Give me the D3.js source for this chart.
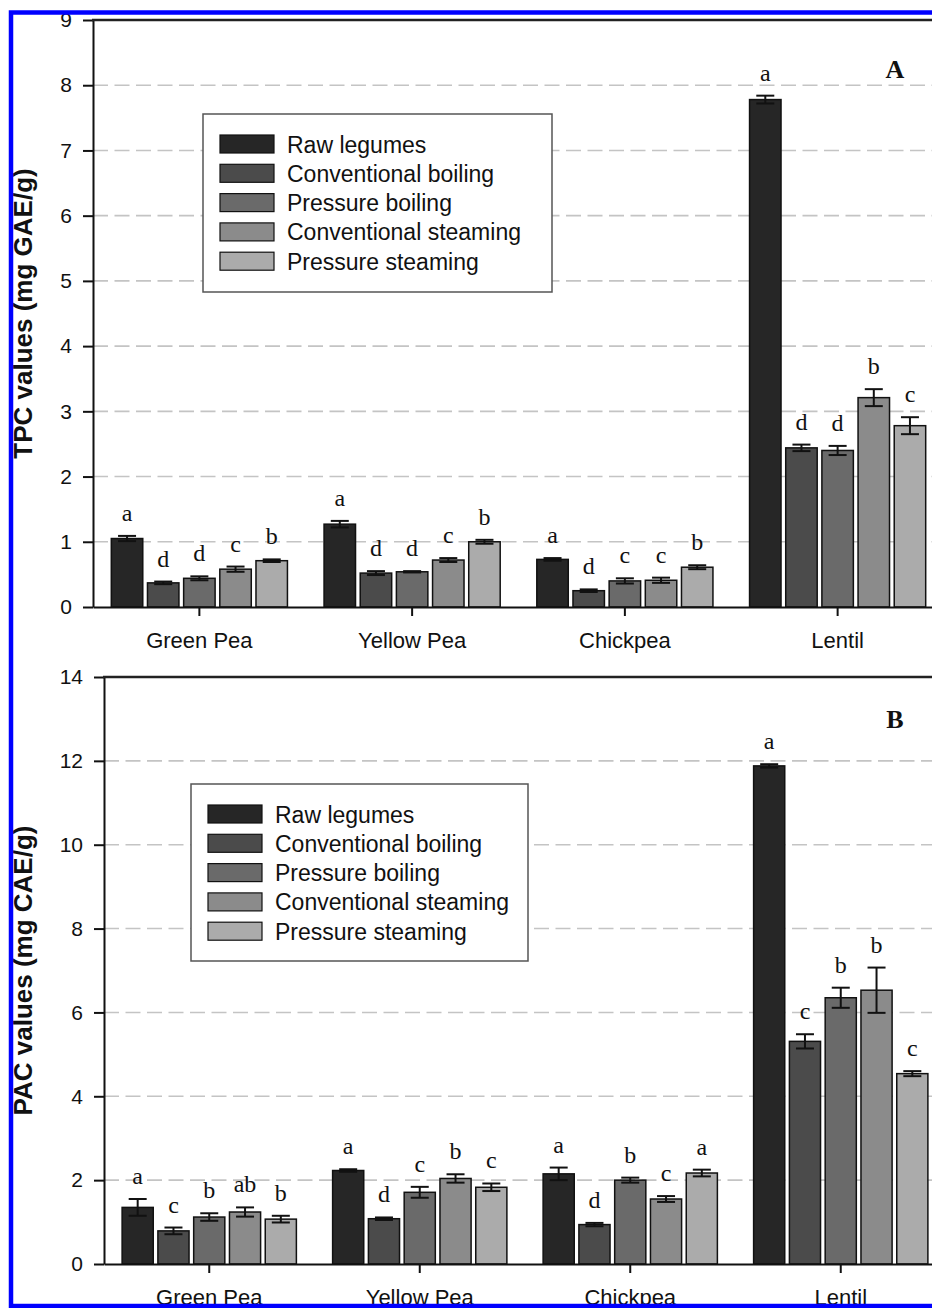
<!DOCTYPE html>
<html>
<head>
<meta charset="utf-8">
<script src="https://cdn.jsdelivr.net/npm/d3@7"></script>
<style>
  html, body { margin: 0; padding: 0; background: #fff; }
  svg { display: block; }
</style>
</head>
<body>
<div id="chart"></div>
<script>
// data
const categories = ["Green Pea", "Yellow Pea", "Chickpea", "Lentil"];
const treatments = ["Raw legumes", "Conventional boiling", "Pressure boiling", "Conventional steaming", "Pressure steaming"];
const barColors = ["#262626", "#4b4b4b", "#6a6a6a", "#8b8b8b", "#ababab"];

// panel A - TPC (mg GAE/g)
const tpcValues = [
  [1.05, 0.37, 0.44, 0.58, 0.71],
  [1.27, 0.52, 0.54, 0.72, 1.00],
  [0.73, 0.25, 0.40, 0.41, 0.61],
  [7.78, 2.44, 2.40, 3.21, 2.78]
];
const tpcErrors = [
  [0.04, 0.02, 0.03, 0.04, 0.02],
  [0.05, 0.03, 0.01, 0.03, 0.03],
  [0.02, 0.02, 0.04, 0.04, 0.03],
  [0.06, 0.05, 0.07, 0.13, 0.13]
];
const tpcLetters = [
  ["a", "d", "d", "c", "b"],
  ["a", "d", "d", "c", "b"],
  ["a", "d", "c", "c", "b"],
  ["a", "d", "d", "b", "c"]
];
const tpcTicks = [0, 1, 2, 3, 4, 5, 6, 7, 8, 9];

// panel B - PAC (mg CAE/g)
const pacValues = [
  [1.35, 0.79, 1.12, 1.24, 1.07],
  [2.23, 1.08, 1.71, 2.04, 1.83],
  [2.15, 0.94, 2.00, 1.55, 2.17],
  [11.88, 5.31, 6.35, 6.53, 4.54]
];
const pacErrors = [
  [0.20, 0.08, 0.09, 0.11, 0.08],
  [0.03, 0.03, 0.13, 0.10, 0.09],
  [0.15, 0.04, 0.06, 0.07, 0.08],
  [0.04, 0.17, 0.24, 0.54, 0.06]
];
const pacLetters = [
  ["a", "c", "b", "ab", "b"],
  ["a", "d", "c", "b", "c"],
  ["a", "d", "b", "c", "a"],
  ["a", "c", "b", "b", "c"]
];
const pacTicks = [0, 2, 4, 6, 8, 10, 12, 14];

const W = 932, H = 1308;
const SANS = "'Liberation Sans', Arial, Helvetica, sans-serif";
const SERIF = "'Liberation Serif', 'Times New Roman', serif";

const svg = d3.select("#chart").append("svg")
  .attr("width", W)
  .attr("height", H);

// --- one panel ------------------------------------------------------------
function drawPanel(cfg) {
  const g = svg.append("g");

  const y = d3.scaleLinear()
    .domain([0, d3.max(cfg.ticks)])
    .range([cfg.bottom, cfg.top]);

  const x0 = d3.scaleBand()
    .domain(categories)
    .range([cfg.left, cfg.right])
    .paddingInner(0.15)
    .paddingOuter(0.075);

  const x1 = d3.scaleBand()
    .domain(treatments)
    .range([0, x0.bandwidth()])
    .paddingInner(0.13)
    .paddingOuter(0.065);

  const color = d3.scaleOrdinal().domain(treatments).range(barColors);

  // dashed grid lines (not at 0 or top)
  g.append("g").selectAll("line")
    .data(cfg.ticks.filter(t => t > 0 && t < d3.max(cfg.ticks)))
    .enter().append("line")
    .attr("x1", cfg.left)
    .attr("x2", cfg.right)
    .attr("y1", d => y(d))
    .attr("y2", d => y(d))
    .attr("stroke", "#c4c4c4")
    .attr("stroke-width", 1.6)
    .attr("stroke-dasharray", "15,6.5");

  // legend box (white, sits over the grid)
  const lg = g.append("g");
  lg.append("rect")
    .attr("x", cfg.legend.x)
    .attr("y", cfg.legend.y)
    .attr("width", cfg.legend.w)
    .attr("height", cfg.legend.h)
    .attr("fill", "#fff")
    .attr("stroke", "#555")
    .attr("stroke-width", 1.5);
  const rows = lg.selectAll(".row")
    .data(treatments)
    .enter().append("g")
    .attr("class", "row")
    .attr("transform", (d, i) => `translate(${cfg.legend.x + 17}, ${cfg.legend.y + 21 + i * 29.3})`);
  rows.append("rect")
    .attr("width", 54)
    .attr("height", 18)
    .attr("fill", d => color(d))
    .attr("stroke", "#111")
    .attr("stroke-width", 1.2);
  rows.append("text")
    .attr("x", 67)
    .attr("y", 17.5)
    .text(d => d)
    .style("font-family", SANS)
    .style("font-size", "23px")
    .style("fill", "#111");

  // bars
  const rowsData = categories.map((c, ci) => treatments.map((t, ti) => ({
    cat: c, trt: t,
    v: cfg.values[ci][ti],
    e: cfg.errors[ci][ti],
    lab: cfg.letters[ci][ti]
  })));

  const groups = g.append("g").selectAll(".grp")
    .data(rowsData)
    .enter().append("g")
    .attr("class", "grp")
    .attr("transform", d => `translate(${x0(d[0].cat)},0)`);

  groups.selectAll("rect")
    .data(d => d)
    .enter().append("rect")
    .attr("x", d => x1(d.trt))
    .attr("y", d => y(d.v))
    .attr("width", x1.bandwidth())
    .attr("height", d => y(0) - y(d.v))
    .attr("fill", d => color(d.trt))
    .attr("stroke", "#111")
    .attr("stroke-width", 1.5);

  // error bars
  const capW = 9;
  const eb = groups.selectAll(".eb")
    .data(d => d)
    .enter().append("g")
    .attr("class", "eb")
    .attr("transform", d => `translate(${x1(d.trt) + x1.bandwidth() / 2},0)`)
    .attr("stroke", "#111")
    .attr("stroke-width", 2);
  eb.append("line")
    .attr("y1", d => y(d.v - d.e)).attr("y2", d => y(d.v + d.e));
  eb.append("line")
    .attr("x1", -capW).attr("x2", capW)
    .attr("y1", d => y(d.v + d.e)).attr("y2", d => y(d.v + d.e));
  eb.append("line")
    .attr("x1", -capW).attr("x2", capW)
    .attr("y1", d => y(d.v - d.e)).attr("y2", d => y(d.v - d.e));

  // significance letters
  groups.selectAll(".sig")
    .data(d => d)
    .enter().append("text")
    .attr("class", "sig")
    .attr("x", d => x1(d.trt) + x1.bandwidth() / 2)
    .attr("y", d => y(d.v + d.e) - 15)
    .attr("text-anchor", "middle")
    .text(d => d.lab)
    .style("font-family", SERIF)
    .style("font-size", "24px")
    .style("fill", "#111");

  // y axis
  const yAxis = g.append("g")
    .attr("transform", `translate(${cfg.left},0)`)
    .call(d3.axisLeft(y).tickValues(cfg.ticks).tickSize(10).tickSizeOuter(0).tickPadding(11));
  yAxis.select(".domain").attr("stroke", "#111").attr("stroke-width", 2);
  yAxis.selectAll(".tick line").attr("stroke", "#111").attr("stroke-width", 2);
  yAxis.selectAll(".tick text")
    .style("font-family", SANS)
    .style("font-size", "21px")
    .style("fill", "#111");

  // x axis
  const xAxis = g.append("g")
    .attr("transform", `translate(0,${cfg.bottom})`)
    .call(d3.axisBottom(x0).tickSize(9).tickSizeOuter(0).tickPadding(16));
  xAxis.select(".domain").attr("stroke", "#111").attr("stroke-width", 2);
  xAxis.selectAll(".tick line").attr("stroke", "#111").attr("stroke-width", 2);
  xAxis.selectAll(".tick text")
    .style("font-family", SANS)
    .style("font-size", "22px")
    .style("fill", "#111");

  // top frame line
  g.append("line")
    .attr("x1", cfg.left - 1).attr("x2", cfg.right)
    .attr("y1", cfg.top).attr("y2", cfg.top)
    .attr("stroke", "#222")
    .attr("stroke-width", 2.5);

  // axis title
  g.append("text")
    .attr("transform", `translate(32,${(cfg.top + cfg.bottom) / 2}) rotate(-90)`)
    .attr("text-anchor", "middle")
    .text(cfg.title)
    .style("font-family", SANS)
    .style("font-weight", "bold")
    .style("font-size", "26px")
    .style("fill", "#111");

  // panel letter
  g.append("text")
    .attr("x", 895)
    .attr("y", cfg.top + cfg.tagDy)
    .attr("text-anchor", "middle")
    .text(cfg.tag)
    .style("font-family", SERIF)
    .style("font-weight", "bold")
    .style("font-size", "26px")
    .style("fill", "#111");
}

drawPanel({
  top: 20, bottom: 607, left: 93, right: 944,
  ticks: tpcTicks, values: tpcValues, errors: tpcErrors, letters: tpcLetters,
  title: "TPC values (mg GAE/g)", tag: "A", tagDy: 58,
  legend: { x: 203, y: 114, w: 349, h: 178 }
});

drawPanel({
  top: 677, bottom: 1264, left: 104, right: 946,
  ticks: pacTicks, values: pacValues, errors: pacErrors, letters: pacLetters,
  title: "PAC values (mg CAE/g)", tag: "B", tagDy: 51,
  legend: { x: 191, y: 784, w: 337, h: 177 }
});

// blue frame around the figure (drawn last, over everything)
svg.append("rect")
  .attr("x", 11)
  .attr("y", 12.5)
  .attr("width", 960)
  .attr("height", 1293.5)
  .attr("fill", "none")
  .attr("stroke", "#0000ff")
  .attr("stroke-width", 4.5);
</script>
</body>
</html>
